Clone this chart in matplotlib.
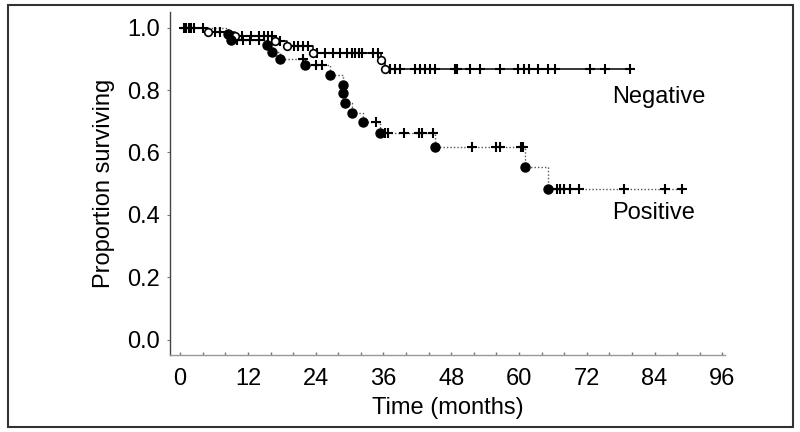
import numpy as np
import matplotlib
matplotlib.use("Agg")
import matplotlib.pyplot as plt
from matplotlib.patches import Rectangle

plt.rcParams['font.family'] = ['Liberation Sans', 'DejaVu Sans']

# ---------------- data ----------------
neg_event_times = [5.0, 9.7, 16.8, 18.9, 23.5, 35.5, 36.3]
neg_event_surv = [0.987, 0.973, 0.958, 0.941, 0.920, 0.896, 0.867]
neg_censor_times = [0.6, 1.5, 2.4, 4.0, 6.2, 7.1, 11.0, 12.5, 14.0, 14.8, 15.5, 16.2,
                    17.6, 20.1, 20.9, 21.8, 22.7, 24.2, 25.7, 27.1, 28.3, 29.5, 30.4,
                    31.0, 31.6, 32.2, 34.2, 35.1, 37.2, 38.1, 38.9, 41.6, 42.5, 43.4,
                    44.2, 45.1, 48.7, 49.0, 51.3, 53.1, 56.6, 59.9, 60.8, 61.7, 63.4,
                    65.2, 66.4, 72.6, 75.2, 79.6]

pos_event_times = [8.5, 9.0, 15.3, 16.2, 17.7, 22.1, 26.5, 28.8, 28.9, 29.1, 30.4,
                   32.3, 35.4, 45.1, 61.1, 65.2]
pos_event_surv = [0.981, 0.962, 0.944, 0.922, 0.898, 0.880, 0.848, 0.816, 0.789,
                  0.757, 0.727, 0.698, 0.661, 0.618, 0.553, 0.484]
pos_censor_times = [1.0, 2.0, 10.0, 11.2, 12.4, 13.9, 21.7, 24.0, 25.2, 34.6, 36.2,
                    36.8, 39.7, 42.3, 42.9, 44.7, 51.6, 56.0, 56.6, 60.4, 60.7, 66.7,
                    67.3, 67.9, 69.0, 70.7, 78.6, 85.8, 88.8]

x_ticks = [0, 12, 24, 36, 48, 60, 72, 84, 96]
y_ticks = [0.0, 0.2, 0.4, 0.6, 0.8, 1.0]
group_labels = ["Negative", "Positive"]


def surv_at(t, ev_t, ev_s):
    idx = np.searchsorted(np.asarray(ev_t), np.asarray(t), side='right')
    s = np.concatenate([[1.0], ev_s])
    return s[idx]


def curve(ev_t, ev_s, cens):
    t_end = max(max(cens), max(ev_t))
    tt = np.concatenate([[0.0], ev_t, [t_end]])
    ss = np.concatenate([[1.0], ev_s, [ev_s[-1]]])
    return tt, ss


fig = plt.figure(figsize=(8.0, 4.32), dpi=100)
ax = fig.add_axes([0.2125, 0.178, 0.694, 0.794])

# Negative: solid line, open circles
tt, ss = curve(neg_event_times, neg_event_surv, neg_censor_times)
ax.plot(tt, ss, drawstyle='steps-post', color='black', lw=1.1, zorder=2)
ax.plot(neg_censor_times, surv_at(neg_censor_times, neg_event_times, neg_event_surv),
        ls='none', marker='+', ms=7.5, mew=1.5, color='black', zorder=3)
ax.plot(neg_event_times, neg_event_surv, ls='none', marker='o', ms=5.5,
        mfc='white', mec='black', mew=1.2, zorder=4)

# Positive: dotted line, filled circles
tt, ss = curve(pos_event_times, pos_event_surv, pos_censor_times)
ax.plot(tt, ss, drawstyle='steps-post', color='#555555', lw=1.0, ls=(0, (1, 1.5)), zorder=2)
ax.plot(pos_censor_times, surv_at(pos_censor_times, pos_event_times, pos_event_surv),
        ls='none', marker='+', ms=7.5, mew=1.5, color='black', zorder=3)
ax.plot(pos_event_times, pos_event_surv, ls='none', marker='o', ms=6.5,
        mfc='black', mec='black', zorder=4)

ax.text(76.4, 0.777, group_labels[0], fontsize=17, ha='left', va='center')
ax.text(76.4, 0.405, group_labels[1], fontsize=17, ha='left', va='center')

ax.set_xlim(-1.8, 96.5)
ax.set_ylim(-0.05, 1.05)
ax.set_xticks(x_ticks)
ax.set_xticklabels([str(v) for v in x_ticks])
ax.set_yticks(y_ticks)
ax.set_yticklabels([f"{v:.1f}" for v in y_ticks])
ax.set_xticks(np.arange(0, 97, 4), minor=True)
ax.tick_params(axis='x', which='both', direction='in', length=2, width=1,
               color='#777777', labelsize=17, pad=9.5)
ax.tick_params(axis='y', which='both', direction='out', length=2, width=0.8,
               color='#777777', labelsize=17, pad=5)

for side in ('top', 'right'):
    ax.spines[side].set_visible(False)
ax.spines['left'].set_color('#444444')
ax.spines['left'].set_linewidth(1.0)
ax.spines['bottom'].set_color('#999999')
ax.spines['bottom'].set_linewidth(1.0)

ax.set_xlabel("Time (months)", fontsize=17, labelpad=5)
ax.set_ylabel("Proportion surviving", fontsize=17, labelpad=9)

fig.patches.append(Rectangle((0.0095, 0.0116), 0.982, 0.977, transform=fig.transFigure,
                             fill=False, edgecolor='#333333', lw=1.5))

fig.savefig("out.png", dpi=100)
